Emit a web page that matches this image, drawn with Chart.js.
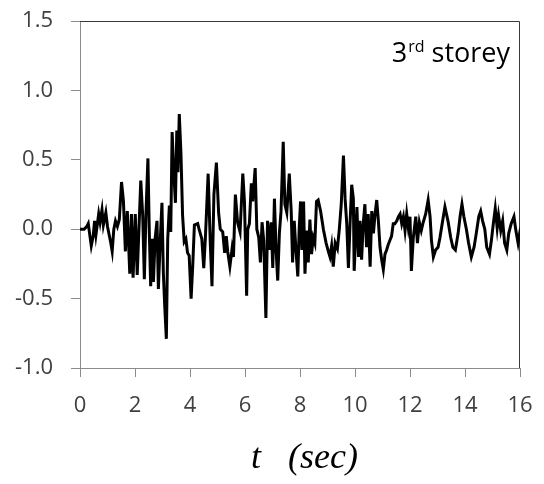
<!DOCTYPE html>
<html>
<head>
<meta charset="utf-8">
<script src="https://cdn.jsdelivr.net/npm/chart.js@4"></script>
<style>
html,body{margin:0;padding:0;background:#fff;}
#wrap{width:544px;height:484px;}
</style>
</head>
<body>
<div id="wrap"><canvas id="c" width="544" height="484"></canvas></div>
<script>
const timeSec = [0.00,0.15,0.25,0.30,0.41,0.48,0.53,0.58,0.68,0.73,0.80,0.85,0.94,1.00,1.12,1.17,1.23,1.29,1.36,1.43,1.51,1.58,1.65,1.72,1.81,1.87,1.93,2.01,2.08,2.21,2.28,2.34,2.40,2.47,2.52,2.57,2.62,2.67,2.73,2.80,2.85,2.91,2.98,3.03,3.08,3.14,3.19,3.25,3.30,3.35,3.41,3.47,3.52,3.56,3.61,3.67,3.73,3.79,3.85,3.91,3.97,4.04,4.10,4.16,4.28,4.33,4.43,4.50,4.56,4.66,4.74,4.80,4.87,4.96,5.04,5.10,5.19,5.26,5.32,5.37,5.45,5.53,5.58,5.65,5.73,5.82,5.92,5.98,6.06,6.10,6.16,6.23,6.28,6.37,6.43,6.50,6.56,6.62,6.68,6.76,6.82,6.88,6.95,7.01,7.07,7.13,7.19,7.25,7.31,7.39,7.45,7.52,7.61,7.68,7.73,7.79,7.85,7.92,7.97,8.02,8.07,8.13,8.18,8.25,8.30,8.36,8.42,8.48,8.54,8.60,8.66,8.75,8.85,8.95,9.03,9.09,9.15,9.21,9.28,9.36,9.43,9.50,9.58,9.64,9.70,9.76,9.82,9.88,9.94,9.97,10.07,10.13,10.18,10.24,10.30,10.36,10.42,10.48,10.55,10.61,10.67,10.73,10.79,10.85,10.91,10.97,11.03,11.09,11.15,11.21,11.27,11.33,11.39,11.45,11.52,11.58,11.64,11.70,11.76,11.82,11.88,11.94,12.00,12.05,12.12,12.21,12.27,12.34,12.41,12.48,12.57,12.66,12.73,12.78,12.85,12.93,13.02,13.09,13.17,13.27,13.38,13.48,13.56,13.65,13.75,13.82,13.89,13.96,14.05,14.13,14.23,14.33,14.41,14.50,14.57,14.64,14.72,14.79,14.89,14.96,15.03,15.10,15.17,15.22,15.30,15.37,15.44,15.52,15.59,15.68,15.78,15.85,15.93,15.98,16.00];
const response = [0.00,0.00,0.02,0.04,-0.12,-0.05,0.06,-0.04,0.11,0.05,0.14,0.03,0.12,0.02,-0.10,-0.16,0.00,0.06,0.02,0.07,0.34,0.20,-0.16,0.13,-0.32,0.11,-0.35,0.11,-0.33,0.35,0.10,-0.36,0.12,0.51,-0.02,-0.41,-0.07,-0.38,-0.07,0.06,-0.43,-0.12,0.19,-0.31,-0.55,-0.79,-0.07,0.17,-0.02,0.70,0.41,0.19,0.71,0.41,0.83,0.55,0.10,-0.09,-0.07,-0.17,-0.19,-0.50,-0.26,0.03,0.04,0.00,-0.07,-0.28,-0.06,0.40,-0.11,-0.41,0.25,0.48,0.12,0.00,-0.02,-0.17,-0.05,-0.16,-0.27,-0.14,-0.20,0.25,0.05,-0.02,0.40,0.20,-0.48,0.00,0.04,0.33,0.20,0.44,0.00,-0.06,-0.24,0.05,-0.08,-0.64,0.06,-0.15,0.05,-0.28,0.22,-0.15,-0.37,-0.03,0.13,0.63,0.18,0.12,0.40,0.13,-0.24,0.06,-0.14,-0.34,0.00,0.20,-0.15,0.20,-0.32,-0.01,-0.24,0.07,-0.18,-0.06,-0.10,0.20,0.21,0.13,0.00,-0.10,-0.16,-0.20,-0.12,-0.27,-0.10,-0.14,0.00,0.18,0.53,0.22,0.04,-0.28,0.04,0.32,0.22,-0.30,0.16,-0.20,0.06,-0.22,0.04,0.18,-0.13,0.11,-0.27,0.13,-0.03,0.11,0.21,0.06,-0.13,-0.22,-0.29,-0.18,-0.15,-0.11,-0.08,-0.05,0.04,0.04,0.06,0.09,0.11,0.04,0.09,-0.01,0.11,0.01,0.09,-0.30,-0.06,0.09,-0.10,0.05,-0.01,0.05,0.11,0.21,0.09,-0.08,-0.20,-0.15,-0.13,-0.06,0.04,0.16,0.06,-0.06,-0.13,-0.15,-0.03,0.09,0.18,0.09,0.00,-0.10,-0.20,-0.13,-0.03,0.09,0.13,0.06,0.00,-0.13,-0.18,-0.08,0.04,0.15,0.01,0.10,-0.01,0.06,-0.10,-0.15,-0.03,0.04,0.09,-0.01,-0.10,-0.04,-0.06];
const xTicks = [0,2,4,6,8,10,12,14,16];
const yTicks = [-1.0,-0.5,0.0,0.5,1.0,1.5];
const annotationMain = "3";
const annotationSup = "rd";
const annotationRest = " storey";
const xTitleVar = "t";
const xTitleUnit = "(sec)";

const points = timeSec.map((t,i)=>({x:t,y:response[i]}));

const decor = {
  id:'decor',
  beforeDatasetsDraw(chart){
    const a = chart.chartArea, ctx = chart.ctx;
    ctx.save();
    ctx.strokeStyle = '#3a3a3a';
    ctx.lineWidth = 1;
    ctx.beginPath();
    ctx.moveTo(a.left, a.top+0.5);
    ctx.lineTo(a.right-0.5, a.top+0.5);
    ctx.lineTo(a.right-0.5, a.bottom);
    ctx.stroke();
    ctx.restore();
  },
  afterDraw(chart){
    const a = chart.chartArea, ctx = chart.ctx;
    ctx.save();
    ctx.fillStyle = '#000';
    ctx.textBaseline = 'alphabetic';
    ctx.textAlign = 'left';
    ctx.font = '27px "Open Sans"';
    const mainW = ctx.measureText(annotationMain).width;
    ctx.font = '16px "Open Sans"';
    const supW = ctx.measureText(annotationSup).width;
    ctx.font = '27px "Open Sans"';
    const restW = ctx.measureText(annotationRest).width;
    let x0 = a.right - 10 - (mainW + supW + 1 + restW);
    const by = a.top + 41;
    ctx.fillText(annotationMain, x0, by);
    ctx.font = '16px "Open Sans"';
    ctx.fillText(annotationSup, x0 + mainW + 1, by - 10);
    ctx.font = '27px "Open Sans"';
    ctx.fillText(annotationRest, x0 + mainW + supW + 1, by);
    ctx.font = 'italic 36px "Liberation Serif"';
    ctx.fillText(xTitleVar, 251, 468);
    ctx.fillText(xTitleUnit, 288, 468);
    ctx.restore();
  }
};

function zeroPad(s){ s.paddingTop = 0; s.paddingBottom = 0; s.paddingLeft = 0; s.paddingRight = 0; }

new Chart(document.getElementById('c'), {
  type:'line',
  data:{datasets:[{data:points,borderColor:'#000',borderWidth:3,pointRadius:0,tension:0,fill:false}]},
  options:{
    responsive:false,
    animation:false,
    layout:{autoPadding:false,padding:{left:0,right:24,top:21,bottom:0}},
    plugins:{legend:{display:false},tooltip:{enabled:false}},
    scales:{
      x:{
        type:'linear',min:0,max:16,
        afterBuildTicks(s){s.ticks = xTicks.map(v=>({value:v}));},
        afterFit(s){s.height = 116; zeroPad(s);},
        grid:{drawOnChartArea:false,drawTicks:true,tickLength:9,color:'#8c8c8c',lineWidth:1},
        border:{color:'#8c8c8c',width:1},
        ticks:{color:'#404040',font:{family:'"Open Sans"',size:22},padding:16,maxRotation:0,autoSkip:false,callback:v=>String(v)}
      },
      y:{
        type:'linear',min:-1,max:1.5,
        afterBuildTicks(s){s.ticks = yTicks.map(v=>({value:v}));},
        afterFit(s){s.width = 80; zeroPad(s);},
        grid:{drawOnChartArea:false,drawTicks:true,tickLength:9,color:'#8c8c8c',lineWidth:1},
        border:{color:'#8c8c8c',width:1},
        ticks:{color:'#404040',font:{family:'"Open Sans"',size:22},padding:18,autoSkip:false,callback:v=>Number(v).toFixed(1)}
      }
    }
  },
  plugins:[decor]
});
</script>
</body>
</html>
